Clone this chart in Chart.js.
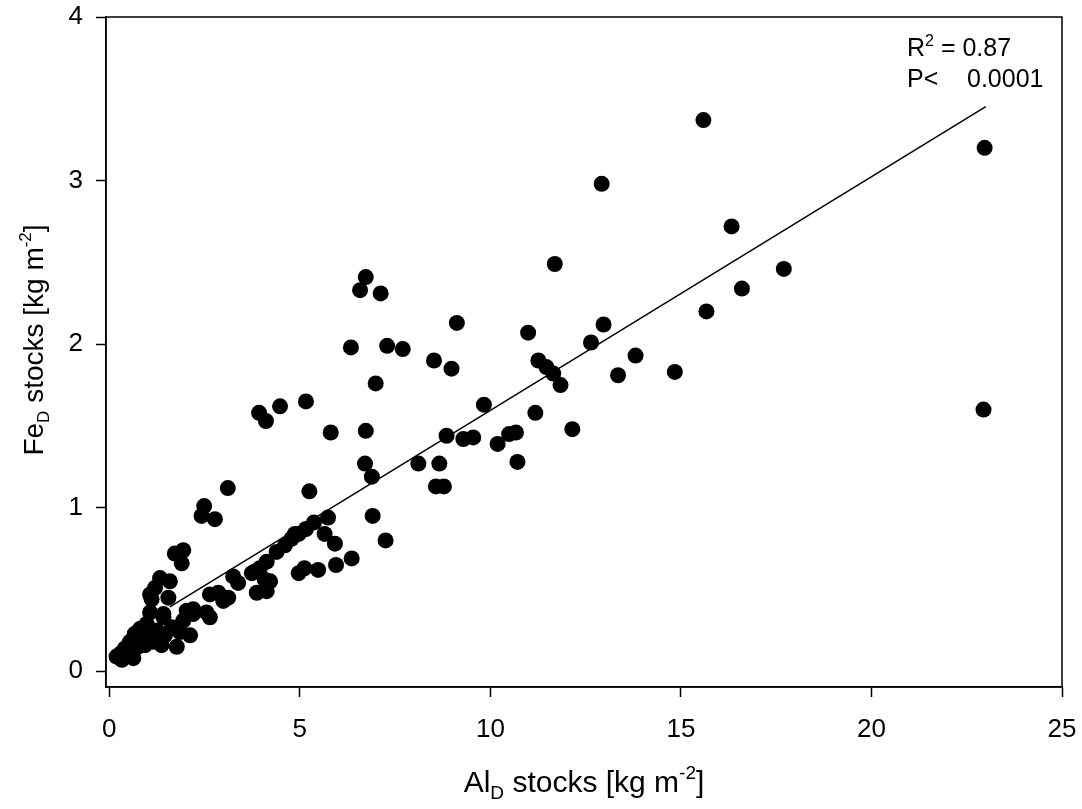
<!DOCTYPE html>
<html>
<head>
<meta charset="utf-8">
<script src="https://cdn.jsdelivr.net/npm/chart.js@4"></script>
<style>
  html, body { margin: 0; padding: 0; background: #ffffff; }
  #wrap { width: 1082px; height: 809px; position: relative; }
</style>
</head>
<body>
<div id="wrap"><canvas id="c"></canvas></div>
<script>
// Dithionite-extractable Al and Fe stocks per profile (kg m-2)
const alStocks = [
  0.19, 0.33, 0.63, 0.41, 0.54, 0.67, 0.81, 0.98, 0.94, 1.15,
  1.37, 0.30, 0.50, 0.75, 0.85, 1.07, 1.42, 1.07, 1.20, 1.33,
  1.59, 1.55, 1.11, 1.90, 1.77, 1.46, 1.64, 1.85, 2.12, 1.94,
  2.20, 2.03, 2.20, 2.55, 2.64, 1.42, 1.25, 1.05, 2.64, 2.86,
  2.99, 3.12, 3.25, 3.38, 3.82, 3.95, 4.13, 3.87, 4.13, 4.08,
  4.22, 4.39, 4.61, 4.78, 4.87, 3.74, 1.72, 1.94, 2.49, 2.42,
  2.77, 3.11, 3.93, 4.11, 4.48, 4.97, 5.12, 5.48, 5.95, 6.36,
  5.92, 7.25, 4.97, 5.16, 5.37, 5.65, 5.74, 6.91, 5.25, 6.71,
  6.89, 8.11, 8.66, 8.57, 8.78, 10.71, 5.81, 6.73, 8.85, 9.29,
  9.55, 10.19, 10.49, 10.67, 12.15, 11.18, 9.83, 5.16, 6.99, 11.26,
  11.47, 11.65, 11.84, 8.52, 8.98, 6.34, 7.29, 7.70, 12.64, 13.81,
  13.35, 14.84, 9.12, 10.99, 12.97, 6.73, 6.58, 7.12, 11.69, 15.67,
  16.60, 17.70, 16.33, 12.92, 15.59, 22.97, 22.94
];
const feStocks = [
  0.09, 0.07, 0.08, 0.14, 0.18, 0.23, 0.26, 0.29, 0.16, 0.18,
  0.16, 0.11, 0.12, 0.15, 0.21, 0.36, 0.35, 0.47, 0.51, 0.57,
  0.55, 0.45, 0.44, 0.66, 0.15, 0.22, 0.27, 0.24, 0.22, 0.31,
  0.35, 0.37, 0.38, 0.36, 0.33, 0.33, 0.25, 0.22, 0.47, 0.48,
  0.43, 0.45, 0.58, 0.54, 0.61, 0.63, 0.67, 0.48, 0.49, 0.56,
  0.55, 0.73, 0.77, 0.81, 0.84, 0.60, 0.72, 0.74, 1.01, 0.95,
  0.93, 1.12, 1.58, 1.53, 1.62, 0.60, 0.63, 0.62, 0.65, 0.69,
  0.78, 0.80, 0.84, 0.87, 0.91, 0.84, 0.94, 0.95, 1.10, 1.27,
  1.19, 1.27, 1.27, 1.13, 1.13, 1.28, 1.46, 1.47, 1.44, 1.42,
  1.43, 1.39, 1.45, 1.46, 1.48, 1.58, 1.63, 1.65, 1.76, 1.90,
  1.86, 1.82, 1.75, 1.90, 1.85, 1.98, 1.99, 1.97, 2.01, 1.93,
  1.81, 1.83, 2.13, 2.07, 2.12, 2.41, 2.33, 2.31, 2.49, 2.20,
  2.34, 2.46, 2.72, 2.98, 3.37, 3.20, 1.60
];

// Linear regression Fe_D = a + b * Al_D, drawn over its fitted range
const fitIntercept = 0.166;
const fitSlope = 0.1429;
const fitRange = [1.59, 23.0];
const fitStats = { r2: '0.87', p: '0.0001' };

const xTickValues = [0, 5, 10, 15, 20, 25];
const yTickValues = [0, 1, 2, 3, 4];

const FONT = '"Liberation Sans", Arial, Helvetica, sans-serif';

// Rich text: [text, 'n' | 'sub' | 'sup']
const xTitleParts = [['Al', 'n'], ['D', 'sub'], [' stocks [kg m', 'n'], ['-2', 'sup'], [']', 'n']];
const yTitleParts = [['Fe', 'n'], ['D', 'sub'], [' stocks [kg m', 'n'], ['-2', 'sup'], [']', 'n']];

function partFont(kind, size) {
  const s = kind === 'n' ? size : Math.round(size * 0.62);
  return s + 'px ' + FONT;
}
function richWidth(ctx, parts, size) {
  let w = 0;
  for (const [t, k] of parts) { ctx.font = partFont(k, size); w += ctx.measureText(t).width; }
  return w;
}
function drawRich(ctx, parts, x, y, size, align) {
  let cx = align === 'center' ? x - richWidth(ctx, parts, size) / 2 : x;
  ctx.textBaseline = 'alphabetic';
  ctx.textAlign = 'left';
  for (const [t, k] of parts) {
    ctx.font = partFont(k, size);
    let dy = 0;
    if (k === 'sub') dy = size * 0.22;
    if (k === 'sup') dy = -size * 0.42;
    ctx.fillText(t, cx, y + dy);
    cx += ctx.measureText(t).width;
  }
}

const framePlugin = {
  id: 'frameAndLabels',
  afterDraw(chart) {
    const { ctx, chartArea: a } = chart;
    ctx.save();
    ctx.strokeStyle = '#000';
    ctx.lineWidth = 1.5;
    ctx.strokeRect(a.left, a.top, a.right - a.left, a.bottom - a.top);
    ctx.fillStyle = '#000';
    // x axis title
    drawRich(ctx, xTitleParts, (a.left + a.right) / 2, 792, 30, 'center');
    // y axis title
    ctx.save();
    ctx.translate(33, 340);
    ctx.rotate(-Math.PI / 2);
    drawRich(ctx, yTitleParts, 0, 10, 28, 'center');
    ctx.restore();
    // regression statistics
    drawRich(ctx, [['R', 'n'], ['2', 'sup'], [' = ' + fitStats.r2, 'n']], 907, 56, 25, 'left');
    drawRich(ctx, [['P<', 'n']], 907, 87, 25, 'left');
    drawRich(ctx, [[fitStats.p, 'n']], 967, 87, 25, 'left');
    ctx.restore();
  }
};

const points = alStocks.map((x, i) => ({ x, y: feStocks[i] }));
const fitLine = fitRange.map(x => ({ x, y: fitIntercept + fitSlope * x }));

function noOverhang(s) {
  s.paddingLeft = 0; s.paddingRight = 0; s.paddingTop = 0; s.paddingBottom = 0;
}

new Chart(document.getElementById('c'), {
  type: 'scatter',
  data: {
    datasets: [
      {
        type: 'line',
        data: fitLine,
        borderColor: '#000',
        borderWidth: 1.5,
        pointRadius: 0,
        fill: false,
        order: 2
      },
      {
        data: points,
        backgroundColor: '#000',
        borderColor: '#000',
        borderWidth: 0,
        pointRadius: 8,
        pointHoverRadius: 8,
        order: 1
      }
    ]
  },
  options: {
    responsive: true,
    maintainAspectRatio: false,
    animation: false,
    devicePixelRatio: 1,
    layout: { padding: { top: 17, right: 20, left: 0, bottom: 0 } },
    plugins: { legend: { display: false }, tooltip: { enabled: false } },
    scales: {
      x: {
        type: 'linear',
        min: -0.087,
        max: 25,
        afterBuildTicks(s) { s.ticks = xTickValues.map(v => ({ value: v })); },
        afterFit(s) { s.height = 122; noOverhang(s); },
        grid: { drawOnChartArea: false, drawTicks: true, tickLength: 10, tickColor: '#000', tickWidth: 1.5 },
        border: { display: true, color: '#000', width: 1.5 },
        ticks: { color: '#000', font: { family: FONT, size: 26 }, padding: 17, maxRotation: 0, autoSkip: false }
      },
      y: {
        type: 'linear',
        min: -0.096,
        max: 4,
        afterBuildTicks(s) { s.ticks = yTickValues.map(v => ({ value: v })); },
        afterFit(s) { s.width = 106; noOverhang(s); },
        grid: { drawOnChartArea: false, drawTicks: true, tickLength: 10, tickColor: '#000', tickWidth: 1.5 },
        border: { display: true, color: '#000', width: 1.5 },
        ticks: { color: '#000', font: { family: FONT, size: 26 }, padding: 13, autoSkip: false }
      }
    }
  },
  plugins: [framePlugin]
});
</script>
</body>
</html>
